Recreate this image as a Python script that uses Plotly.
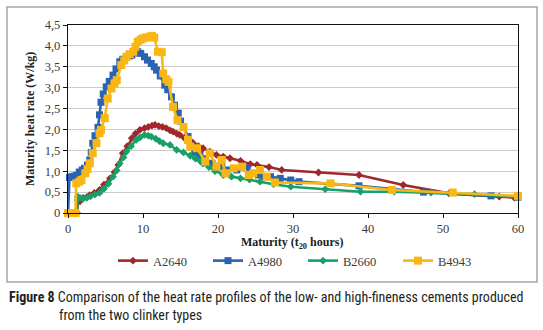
import plotly.graph_objects as go

# ---- data ----
a2640_x = [0.5, 1.2, 1.3, 1.6, 2.0, 2.5, 2.9, 3.5, 4.2, 4.8, 5.6, 6.2, 6.7, 7.3, 7.9, 8.5, 9.0, 9.6,
           10.2, 10.7, 11.2, 11.6, 12.1, 12.6, 13.1, 13.6, 14.0, 14.5, 14.9, 15.5, 16.3, 16.7, 17.4,
           18.0, 18.9, 19.8, 20.7, 21.6, 23.0, 24.3, 25.2, 26.8, 28.5, 33.4, 38.8, 44.7, 50.8, 57.5, 59.5]
a2640_y = [0, 0, 0.31, 0.28, 0.36, 0.38, 0.43, 0.48, 0.55, 0.68, 0.83, 0.98, 1.15, 1.43, 1.60, 1.79, 1.90, 1.99,
           2.03, 2.06, 2.09, 2.11, 2.08, 2.06, 2.03, 1.98, 1.95, 1.90, 1.87, 1.80, 1.73, 1.67, 1.60,
           1.55, 1.47, 1.39, 1.35, 1.31, 1.25, 1.17, 1.15, 1.10, 1.03, 0.97, 0.91, 0.67, 0.47, 0.39, 0.37]

a4980_x = [0, 0.2, 0.5, 0.8, 1.1, 1.5, 1.9, 2.2, 2.6, 2.9, 3.1, 3.3, 3.6, 4.0, 4.2, 4.4, 4.7, 5.1, 5.5,
           6.0, 6.4, 6.9, 7.3, 7.8, 8.2, 8.5, 8.9, 9.3, 9.7, 10.2, 10.6, 11.1, 11.5, 11.8, 12.3, 12.9,
           13.3, 13.8, 14.2, 14.7, 15.0, 15.4, 16.0, 16.4, 16.9, 17.6, 18.3, 19.2, 19.8, 20.5, 21.2,
           22.5, 23.9, 24.5, 25.4, 26.2, 27.0, 28.3, 29.7, 30.8, 38.8, 47.4, 56.4, 60.0]
a4980_y = [0, 0.85, 0.87, 0.88, 0.90, 0.98, 1.03, 1.07, 1.15, 1.27, 1.45, 1.67, 1.85, 2.05, 2.35, 2.65, 2.85, 3.02, 3.15,
           3.30, 3.45, 3.62, 3.68, 3.74, 3.76, 3.78, 3.83, 3.86, 3.82, 3.74, 3.66, 3.58, 3.50, 3.42, 3.28, 3.06,
           2.95, 2.78, 2.58, 2.39, 2.20, 2.05, 1.83, 1.60, 1.45, 1.40, 1.30, 1.19, 1.12, 1.10, 1.03,
           1.03, 1.07, 0.95, 0.91, 0.87, 0.87, 0.83, 0.79, 0.75, 0.65, 0.50, 0.41, 0.38]

b2660_x = [1.2, 1.3, 1.6, 2.0, 2.5, 3.0, 3.6, 4.2, 4.8, 5.4, 6.0, 6.5, 6.9, 7.4, 7.8, 8.4, 9.1, 9.6,
           10.2, 10.7, 11.1, 11.7, 12.2, 12.7, 13.6, 14.5, 15.4, 16.3, 17.0, 17.6, 18.0, 18.8, 19.6,
           20.7, 21.8, 23.0, 24.2, 25.6, 27.4, 29.7, 34.3, 39.0, 43.5, 48.4, 54.2, 59.8]
b2660_y = [0, 0.39, 0.36, 0.34, 0.36, 0.40, 0.44, 0.48, 0.58, 0.70, 0.87, 1.02, 1.19, 1.33, 1.47, 1.60, 1.75, 1.81,
           1.87, 1.85, 1.83, 1.78, 1.72, 1.67, 1.63, 1.51, 1.45, 1.37, 1.30, 1.25, 1.18, 1.10, 1.00,
           0.91, 0.87, 0.83, 0.80, 0.75, 0.69, 0.63, 0.57, 0.51, 0.51, 0.49, 0.45, 0.38]

b4943_x = [0, 0.5, 1.0, 1.1, 1.5, 1.8, 2.3, 2.6, 2.9, 3.3, 3.8, 4.2, 4.4, 4.9, 5.3, 5.8, 6.2, 6.5, 7.1,
           7.5, 7.8, 8.2, 8.7, 9.0, 9.3, 9.7, 10.0, 10.4, 10.9, 11.2, 11.5, 12.0, 12.5, 12.7, 13.1, 13.4,
           14.0, 14.6, 15.4, 16.0, 16.3, 17.2, 18.3, 18.9, 19.8, 20.5, 21.0, 22.1, 23.2, 24.1, 24.7,
           25.6, 26.5, 27.6, 35.0, 43.2, 51.3, 60.0]
b4943_y = [0, 0, 0, 0.71, 0.75, 0.79, 0.95, 1.05, 1.19, 1.43, 1.67, 1.91, 1.99, 2.27, 2.74, 2.98, 3.10, 3.18, 3.54,
           3.65, 3.74, 3.80, 3.86, 3.98, 4.10, 4.15, 4.18, 4.20, 4.22, 4.24, 4.20, 3.86, 3.85, 3.34, 3.20, 3.14,
           2.54, 2.22, 2.06, 1.75, 1.59, 1.55, 1.23, 1.43, 1.11, 1.27, 0.95, 1.07, 1.11, 0.91, 0.95,
           1.03, 0.87, 0.73, 0.71, 0.55, 0.49, 0.41]

x_ticks = [0, 10, 20, 30, 40, 50, 60]
y_ticks = [0, 0.5, 1.0, 1.5, 2.0, 2.5, 3.0, 3.5, 4.0, 4.5]
y_tick_labels = ["0", "0,5", "1,0", "1,5", "2,0", "2,5", "3,0", "3,5", "4,0", "4,5"]

series = [
    ("A2640", a2640_x, a2640_y, "#A0272B", "diamond", 6),
    ("A4980", a4980_x, a4980_y, "#2B63B3", "square", 7),
    ("B2660", b2660_x, b2660_y, "#17A068", "diamond", 6),
    ("B4943", b4943_x, b4943_y, "#F9B716", "square", 8),
]

SERIF = "Liberation Serif, Times New Roman, serif"
TXT = "#3a3a3a"

fig = go.Figure()
for name, xs, ys, col, sym, sz in series:
    fig.add_trace(go.Scatter(
        x=xs, y=ys, name=name, mode="lines+markers",
        line=dict(color=col, width=2.6),
        marker=dict(color=col, symbol=sym, size=sz, line=dict(width=0)),
        cliponaxis=False,
    ))

fig.update_layout(
    width=543, height=330, autosize=False,
    margin=dict(l=68, r=25, t=25, b=117, autoexpand=False),
    paper_bgcolor="white", plot_bgcolor="white",
    font=dict(family=SERIF, size=12, color=TXT),
    showlegend=True,
    legend=dict(orientation="h", x=(113 - 68) / 450, xanchor="left", y=(213 - 261) / 188, yanchor="middle",
                entrywidth=50, entrywidthmode="pixels", font=dict(family=SERIF, size=12.5, color=TXT),
                bgcolor="rgba(0,0,0,0)", tracegroupgap=0, itemwidth=30),
    xaxis=dict(range=[0, 60], tickvals=x_ticks, ticktext=[str(v) for v in x_ticks],
               showgrid=False, zeroline=False, showline=True, mirror=True,
               linecolor="#111111", linewidth=1.4, ticks="outside", ticklen=4,
               tickcolor="#111111", tickwidth=1, tickfont=dict(family=SERIF, size=12.5, color=TXT)),
    yaxis=dict(range=[0, 4.5], tickvals=y_ticks, ticktext=y_tick_labels,
               showgrid=True, gridcolor="#cccccc", gridwidth=1, zeroline=False,
               showline=True, mirror=True, linecolor="#111111", linewidth=1.4,
               ticks="outside", ticklen=4, tickcolor="#111111", tickwidth=1,
               tickfont=dict(family=SERIF, size=12.5, color=TXT)),
)

# axis titles
fig.add_annotation(xref="paper", yref="paper", x=(30 - 68) / 450, y=0.5,
                   text="<b>Maturity heat rate (W/kg)</b>", textangle=-90, showarrow=False,
                   font=dict(family=SERIF, size=12, color="#222222"), xanchor="center", yanchor="middle")
fig.add_annotation(xref="paper", yref="paper", x=(292 - 68) / 450, y=(213 - 243) / 188,
                   text="<b>Maturity (t<sub>20</sub> hours)</b>", showarrow=False,
                   font=dict(family=SERIF, size=12, color="#222222"), xanchor="center", yanchor="middle")

# outer frame
fig.add_shape(type="rect", xref="paper", yref="paper",
              x0=(7 - 68) / 450, x1=(537 - 68) / 450, y0=(213 - 282) / 188, y1=(213 - 7) / 188,
              line=dict(color="#a6a6a6", width=1.5), fillcolor="rgba(0,0,0,0)", layer="below")

# caption
CAP = "Liberation Sans Narrow, Roboto Condensed, Arial Narrow, Roboto, sans-serif"
fig.add_annotation(xref="paper", yref="paper", x=(7 - 68) / 450, y=(213 - 297) / 188,
                   text="<b>Figure 8</b> Comparison of the heat rate profiles of the low- and high-fineness cements produced",
                   showarrow=False, xanchor="left", yanchor="middle", align="left",
                   font=dict(family=CAP, size=14, color="#231f20"))
fig.add_annotation(xref="paper", yref="paper", x=(57 - 68) / 450, y=(213 - 315) / 188,
                   text="from the two clinker types",
                   showarrow=False, xanchor="left", yanchor="middle", align="left",
                   font=dict(family=CAP, size=14, color="#231f20"))

fig.write_html("out.html", config={"displayModeBar": False},
               post_script="document.body.style.margin='0px';document.body.style.overflow='hidden';")
